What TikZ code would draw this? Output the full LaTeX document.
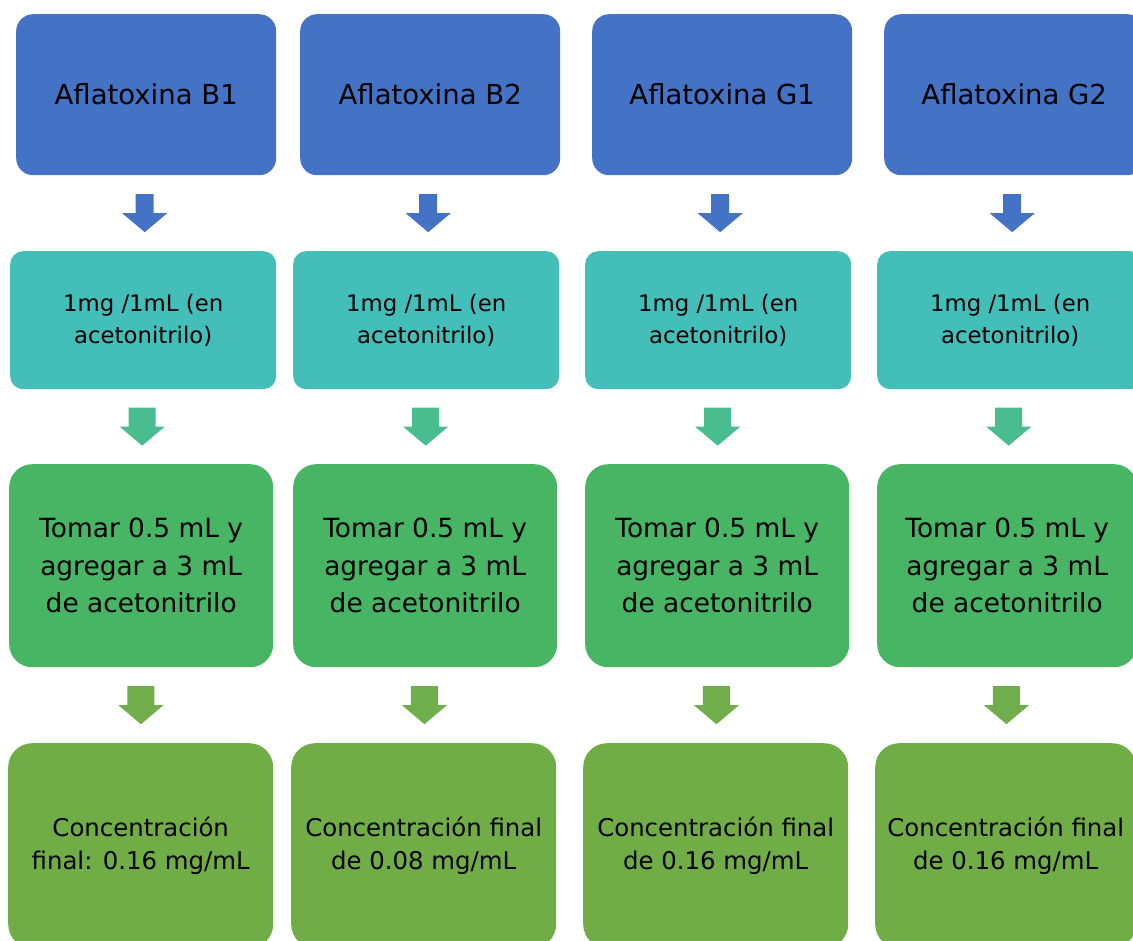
\documentclass[tikz,border=0pt]{standalone}
\usepackage{fontspec}
\setmainfont{DejaVu Sans}
\usetikzlibrary{calc}
\definecolor{cblue}{HTML}{4472C4}
\definecolor{cteal}{RGB}{68,190,185}
\definecolor{cgreen}{RGB}{71,181,100}
\definecolor{colive}{HTML}{70AD47}
\definecolor{carrowtwo}{RGB}{73,189,142}
\definecolor{carrowthree}{RGB}{111,174,74}
\tikzset{
  box/.style={rectangle, anchor=north west, align=center, inner sep=0pt, text=black},
  rowone/.style={box, fill=cblue, rounded corners=17pt, minimum width=260pt, minimum height=161pt, font=\fontsize{27.5}{33}\selectfont},
  rowtwo/.style={box, fill=cteal, rounded corners=13pt, minimum width=266pt, minimum height=138pt, font=\fontsize{22.8}{32}\selectfont},
  rowthree/.style={box, fill=cgreen, rounded corners=23pt, minimum width=264pt, minimum height=203pt, font=\fontsize{26.4}{37.5}\selectfont},
  rowfour/.style={box, fill=colive, rounded corners=24pt, minimum width=265pt, minimum height=205pt, font=\fontsize{24.4}{33}\selectfont},
}
\newcommand{\blkarrow}[4]{%
  \coordinate (m) at ($(#1.south)!0.5!(#2.north)$);
  \fill[#3] ($(m)+(-#4,19)$) -- ($(m)+(#4,19)$) -- ($(m)+(#4,0)$) -- ($(m)+(22.5,0)$)
    -- ($(m)+(0,-19)$) -- ($(m)+(-22.5,0)$) -- ($(m)+(-#4,0)$) -- cycle;}
\begin{document}
\begin{tikzpicture}[x=1pt,y=1pt]
\useasboundingbox (0,0) rectangle (1133,-941);
\clip (0,0) rectangle (1133,-941);
% row 1
\node[rowone] (a1) at (16,-14) {Aflatoxina B1};
\node[rowone] (a2) at (300,-14) {Aflatoxina B2};
\node[rowone] (a3) at (592,-14) {Aflatoxina G1};
\node[rowone] (a4) at (884,-14) {Aflatoxina G2};
% row 2
\node[rowtwo] (b1) at (10,-251) {1mg /1mL (en\\acetonitrilo)};
\node[rowtwo] (b2) at (293,-251) {1mg /1mL (en\\acetonitrilo)};
\node[rowtwo] (b3) at (585,-251) {1mg /1mL (en\\acetonitrilo)};
\node[rowtwo] (b4) at (877,-251) {1mg /1mL (en\\acetonitrilo)};
% row 3
\node[rowthree] (c1) at (9,-464) {Tomar 0.5 mL y\\agregar a 3 mL\\de acetonitrilo};
\node[rowthree] (c2) at (293,-464) {Tomar 0.5 mL y\\agregar a 3 mL\\de acetonitrilo};
\node[rowthree] (c3) at (585,-464) {Tomar 0.5 mL y\\agregar a 3 mL\\de acetonitrilo};
\node[rowthree, minimum width=260pt] (c4) at (877,-464) {Tomar 0.5 mL y\\agregar a 3 mL\\de acetonitrilo};
% row 4
\node[rowfour] (d1) at (8,-743) {Concentración\\final: 0.16 mg/mL};
\node[rowfour] (d2) at (291,-743) {Concentración final\\de 0.08 mg/mL};
\node[rowfour] (d3) at (583,-743) {Concentración final\\de 0.16 mg/mL};
\node[rowfour, minimum width=261pt] (d4) at (875,-743) {Concentración final\\de 0.16 mg/mL};
% arrows
\blkarrow{a1}{b1}{cblue}{9}
\blkarrow{a2}{b2}{cblue}{9}
\blkarrow{a3}{b3}{cblue}{9}
\blkarrow{a4}{b4}{cblue}{9}
\blkarrow{b1}{c1}{carrowtwo}{13.5}
\blkarrow{b2}{c2}{carrowtwo}{13.5}
\blkarrow{b3}{c3}{carrowtwo}{13.5}
\blkarrow{b4}{c4}{carrowtwo}{13.5}
\blkarrow{c1}{d1}{carrowthree}{13.5}
\blkarrow{c2}{d2}{carrowthree}{13.5}
\blkarrow{c3}{d3}{carrowthree}{13.5}
\blkarrow{c4}{d4}{carrowthree}{13.5}
\end{tikzpicture}
\end{document}
